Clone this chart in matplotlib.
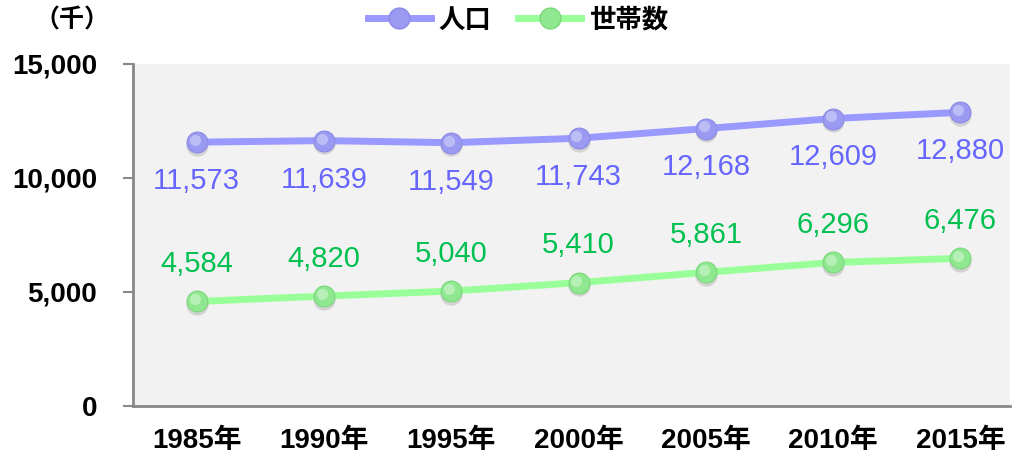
import matplotlib
matplotlib.use("Agg")
from matplotlib import pyplot as plt
from matplotlib.lines import Line2D
import matplotlib.transforms as mtrans

plt.rcParams['font.family'] = ['Liberation Sans', 'Noto Sans CJK JP', 'DejaVu Sans']

# データ
years = ["1985年", "1990年", "1995年", "2000年", "2005年", "2010年", "2015年"]
population = [11573, 11639, 11549, 11743, 12168, 12609, 12880]
households = [4584, 4820, 5040, 5410, 5861, 6296, 6476]

pop_line = "#9999ff"
pop_text = "#6666ff"
hh_line = "#99ff99"
hh_text = "#00c050"

fig = plt.figure(figsize=(10.13, 4.61), dpi=100)
ax = fig.add_axes([133 / 1013, 55 / 461, (1010 - 133) / 1013, 342 / 461])
ax.set_facecolor("#f2f2f2")

x = list(range(len(years)))


def shifted(dx, dy):
    return ax.transData + mtrans.ScaledTranslation(dx / 72, dy / 72, fig.dpi_scale_trans)


def draw_series(vals, line_c, face_c, edge_c):
    ax.plot(x, vals, color=line_c, lw=5, zorder=2, solid_capstyle="round")
    # 影
    ax.plot(x, vals, "o", ms=16, color="#bdbdbd", mec="none", alpha=0.6, zorder=2.5,
            transform=shifted(0, -2))
    ax.plot(x, vals, "o", ms=15, color=face_c, mec=edge_c, mew=0.8, zorder=3)
    ax.plot(x, vals, "o", ms=8, color="white", mec="none", alpha=0.35, zorder=4,
            transform=shifted(-1.5, 1.5))


draw_series(population, pop_line, "#9a9af2", "#8a8ae6")
draw_series(households, hh_line, "#8fe88f", "#7ad87a")

for xi, v in zip(x, population):
    ax.annotate(f"{v:,}", (xi, v), xytext=(0, -28), textcoords="offset points",
                ha="center", va="center", fontsize=21, color=pop_text)
for xi, v in zip(x, households):
    ax.annotate(f"{v:,}", (xi, v), xytext=(0, 27), textcoords="offset points",
                ha="center", va="center", fontsize=21, color=hh_text)

ax.set_xlim(-0.5, (1010 - 133) / 127.3 - 0.5)
ax.set_ylim(0, 15000)
ax.set_yticks([0, 5000, 10000, 15000])
ax.set_yticklabels(["0", "5,000", "10,000", "15,000"], fontsize=20, fontweight="bold")
ax.set_xticks(x)
ax.set_xticklabels(years, fontsize=20, fontweight="bold")
ax.tick_params(axis="x", length=0, pad=16)
ax.tick_params(axis="y", length=7, width=1.5, color="#888888", pad=19)

for s in ["top", "right"]:
    ax.spines[s].set_visible(False)
for s in ["left", "bottom"]:
    ax.spines[s].set_color("#888888")
    ax.spines[s].set_linewidth(2)

fig.text(72 / 1013, 1 - 20 / 461, "（千）", ha="center", va="center", fontsize=18, fontweight="bold")

handles = [
    Line2D([], [], color=pop_line, lw=5, marker="o", ms=15, mfc="#9a9af2", mec="#8a8ae6"),
    Line2D([], [], color=hh_line, lw=5, marker="o", ms=15, mfc="#8fe88f", mec="#7ad87a"),
]
fig.legend(handles, ["人口", "世帯数"], loc="center", bbox_to_anchor=(518 / 1013, 1 - 20 / 461),
           ncol=2, frameon=False, prop={"size": 19, "weight": "bold"}, handlelength=2.4,
           columnspacing=1.0, handletextpad=0.3)

fig.savefig("out.png", dpi=100)
